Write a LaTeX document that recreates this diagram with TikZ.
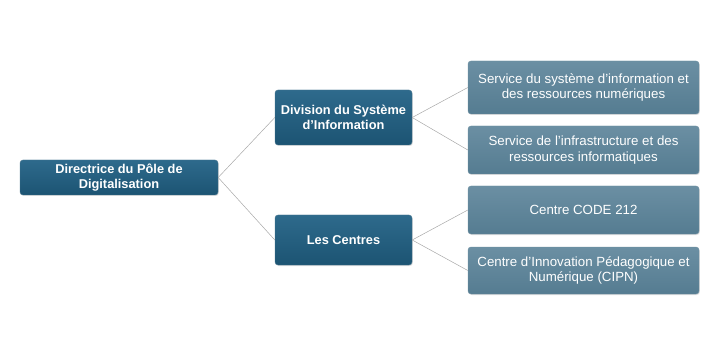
\documentclass[tikz,border=0pt]{standalone}
\usepackage{fontspec}
\setmainfont{Liberation Sans}
\usetikzlibrary{shadows}
\definecolor{darktop}{HTML}{2E6A8C}
\definecolor{darkbot}{HTML}{1C5473}
\definecolor{lighttop}{HTML}{6B8FA3}
\definecolor{lightbot}{HTML}{557C91}
\definecolor{linkcol}{HTML}{A8A8A8}
\tikzset{
  darkbox/.style={rounded corners=3pt, top color=darktop, bottom color=darkbot,
    draw=darkbot!80!white, line width=0.4pt, text=white, font=\fontsize{12.8}{14.5}\selectfont\bfseries,
    align=center, inner sep=0pt, drop shadow={shadow xshift=0.8pt, shadow yshift=-1pt, opacity=0.25}},
  lightbox/.style={rounded corners=3pt, top color=lighttop, bottom color=lightbot,
    draw=lightbot!85!white, line width=0.4pt, text=white, font=\fontsize{13.3}{15.5}\selectfont,
    align=center, inner sep=0pt, drop shadow={shadow xshift=0.8pt, shadow yshift=-1pt, opacity=0.25}},
  link/.style={draw=linkcol, line width=0.5pt}
}
\begin{document}
\begin{tikzpicture}[x=1pt,y=-1pt]
\useasboundingbox (0,0) rectangle (719,347);
\node[darkbox, minimum width=198pt, minimum height=35pt] (root) at (119,177.5) {Directrice du Pôle de\\Digitalisation};
\node[darkbox, minimum width=137pt, minimum height=55pt] (div) at (343.5,117.5) {Division du Système\\d’Information};
\node[darkbox, minimum width=137pt, minimum height=50pt] (cent) at (343.5,240) {Les Centres};
\node[lightbox, minimum width=231pt, minimum height=53pt] (s1) at (583.5,87.5) {Service du système d'information et\\des ressources numériques};
\node[lightbox, minimum width=231pt, minimum height=48pt] (s2) at (583.5,150) {Service de l'infrastructure et des\\ressources informatiques};
\node[lightbox, minimum width=231pt, minimum height=48pt] (c1) at (583.5,210) {Centre CODE 212};
\node[lightbox, minimum width=231pt, minimum height=47pt] (c2) at (583.5,270.5) {Centre d’Innovation Pédagogique et\\Numérique (CIPN)};
\draw[link] (root.east) -- (div.west);
\draw[link] (root.east) -- (cent.west);
\draw[link] (div.east) -- (s1.west);
\draw[link] (div.east) -- (s2.west);
\draw[link] (cent.east) -- (c1.west);
\draw[link] (cent.east) -- (c2.west);
\end{tikzpicture}
\end{document}
